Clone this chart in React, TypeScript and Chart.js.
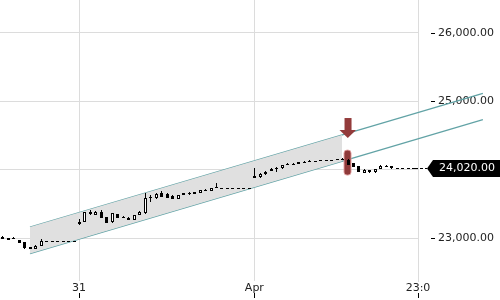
import React, { useEffect, useRef } from "react";
import { Chart, registerables } from "chart.js";

Chart.register(...registerables);

// ---- data ----
const categories = ["31", "Apr", "23:0"];
const tickIndex = [14, 46, 75.86];
const yTicks = [23000, 24000, 25000, 26000];

const opens = [
  23023, 22998, 22998, 22975, 22941, 22877, 22843, 22892, 22956, 22956, 22956, 22956, 22956, 22956,
  23204, 23242, 23388, 23340, 23388, 23310, 23233, 23354, 23312, 23300, 23267, 23340, 23365, 23600,
  23583, 23656, 23642, 23617, 23573, 23656, 23665, 23675, 23665, 23706, 23694, 23750, 23740, 23740,
  23740, 23740, 23740, 23740, 23913, 23894, 23934, 23982, 24020, 24021, 24082, 24085, 24080, 24120,
  24126, 24132, 24137, 24142, 24147, 24153, 24158, 24140, 24094, 24055, 23957, 23996, 23963, 24007,
  24053, 24050, 24020, 24020, 24020, 24020,
];
const highs = [
  23030, 23005, 23020, 22980, 22945, 22880, 22895, 22985, 22956, 22956, 22956, 22956, 22956, 22956,
  23281, 23390, 23420, 23395, 23420, 23315, 23370, 23360, 23330, 23305, 23345, 23400, 23667, 23632,
  23660, 23690, 23660, 23625, 23635, 23660, 23670, 23680, 23705, 23720, 23735, 23800, 23740, 23740,
  23740, 23740, 23740, 23740, 24026, 23960, 23980, 24020, 24045, 24075, 24095, 24100, 24118, 24135,
  24140, 24132, 24137, 24142, 24147, 24153, 24175, 24150, 24100, 24060, 24010, 24000, 24010, 24075,
  24070, 24055, 24020, 24020, 24020, 24020,
];
const lows = [
  22990, 22970, 22990, 22930, 22850, 22840, 22840, 22890, 22956, 22956, 22956, 22956, 22956, 22956,
  23200, 23240, 23345, 23335, 23295, 23220, 23230, 23295, 23290, 23262, 23262, 23335, 23360, 23534,
  23580, 23600, 23588, 23570, 23570, 23628, 23638, 23646, 23660, 23700, 23690, 23735, 23740, 23740,
  23740, 23740, 23740, 23740, 23880, 23885, 23930, 23978, 23972, 24015, 24075, 24078, 24078, 24112,
  24120, 24132, 24137, 24142, 24147, 24153, 24152, 24065, 24040, 23968, 23950, 23960, 23960, 24005,
  24040, 24015, 24020, 24020, 24020, 24020,
];
const closes = [
  22994, 22975, 22995, 22936, 22854, 22843, 22892, 22956, 22956, 22956, 22956, 22956, 22956, 22956,
  23242, 23379, 23350, 23388, 23300, 23227, 23365, 23300, 23308, 23267, 23340, 23383, 23592, 23605,
  23646, 23607, 23592, 23573, 23632, 23632, 23642, 23650, 23700, 23710, 23729, 23740, 23740, 23740,
  23740, 23740, 23740, 23740, 23884, 23942, 23971, 24015, 24022, 24069, 24078, 24080, 24113, 24115,
  24122, 24132, 24137, 24142, 24147, 24153, 24155, 24069, 24045, 23972, 23996, 23963, 24007, 24059,
  24057, 24020, 24020, 24020, 24020, 24020,
];

const lastPrice = 24020;

// channel anchors: start, end of shaded part, end of lines
const channelX = [5.05, 62, 87.7];
const channelLower = [22778, 24124, 24731];
const channelUpper = [23163, 24509, 25116];

// sell signal
const signalIndex = 63;
const signalArrowPrice = 24463;
const signalBand = [23922, 24287];

const FONT = "DejaVu Sans";

const fmt = (v: number) =>
  Number(v).toLocaleString("en-US", { minimumFractionDigits: 2, maximumFractionDigits: 2 });

const noPad = (s: any) => {
  s.paddingTop = 0;
  s.paddingBottom = 0;
  s.paddingLeft = 0;
  s.paddingRight = 0;
};

const overlayPlugin = {
  id: "overlay",
  afterDatasetsDraw(chart: any) {
    const { ctx, chartArea } = chart;
    const xs = chart.scales.x;
    const ys = chart.scales.y;
    ctx.save();
    ctx.beginPath();
    ctx.rect(chartArea.left, chartArea.top, chartArea.right - chartArea.left, chartArea.bottom - chartArea.top);
    ctx.clip();

    // signal band (behind candle)
    const sx = xs.getPixelForValue(signalIndex);
    const bTop = ys.getPixelForValue(signalBand[1]);
    const bBot = ys.getPixelForValue(signalBand[0]);
    ctx.beginPath();
    (ctx as any).roundRect(sx - 3.5, bTop, 7, bBot - bTop, 3);
    ctx.fillStyle = "#8f3a3a";
    ctx.fill();
    ctx.strokeStyle = "rgba(225,160,160,0.9)";
    ctx.lineWidth = 1;
    ctx.stroke();

    // candles
    for (let i = 0; i < opens.length; i++) {
      const px = Math.round(xs.getPixelForValue(i));
      const yo = ys.getPixelForValue(opens[i]);
      const yc = ys.getPixelForValue(closes[i]);
      const yh = Math.round(ys.getPixelForValue(highs[i]));
      const yl = Math.round(ys.getPixelForValue(lows[i]));
      const top = Math.round(Math.min(yo, yc));
      const bot = Math.round(Math.max(yo, yc));
      const h = Math.max(1, bot - top);
      ctx.fillStyle = "#000";
      if (yl - yh > 0) ctx.fillRect(px, yh, 1, yl - yh);
      ctx.fillRect(px - 1, top, 3, h);
      if (closes[i] > opens[i] && h > 2) {
        ctx.fillStyle = "#fff";
        ctx.fillRect(px, top + 1, 1, h - 2);
      }
    }
    ctx.restore();

    // arrow
    const tip = ys.getPixelForValue(signalArrowPrice);
    ctx.save();
    ctx.fillStyle = "#933b3b";
    ctx.fillRect(sx - 3, tip - 20, 7, 12);
    ctx.beginPath();
    ctx.moveTo(sx - 8, tip - 8);
    ctx.lineTo(sx + 8.5, tip - 8);
    ctx.lineTo(sx + 0.25, tip);
    ctx.closePath();
    ctx.fill();
    ctx.restore();
  },
  afterDraw(chart: any) {
    const { ctx, chartArea } = chart;
    const xs = chart.scales.x;
    const ys = chart.scales.y;
    ctx.save();
    ctx.fillStyle = "#000";
    // y tick dashes
    yTicks.forEach((v) => {
      const y = Math.round(ys.getPixelForValue(v));
      ctx.fillRect(chartArea.right + 13, y, 4, 1);
    });
    // x tick marks below labels
    tickIndex.forEach((v) => {
      const x = Math.round(xs.getPixelForValue(v));
      ctx.fillRect(x, 293, 1, 5);
    });
    // last price dashed extension
    const ly = Math.round(ys.getPixelForValue(lastPrice)) + 0.5;
    ctx.strokeStyle = "#000";
    ctx.lineWidth = 1;
    ctx.setLineDash([3, 2]);
    ctx.beginPath();
    ctx.moveTo(chartArea.right - 3, ly);
    ctx.lineTo(chartArea.right + 9, ly);
    ctx.stroke();
    ctx.setLineDash([]);
    // price label
    const cy = ly;
    ctx.beginPath();
    ctx.moveTo(chartArea.right + 9, cy);
    ctx.lineTo(chartArea.right + 15, cy - 8.5);
    ctx.lineTo(500, cy - 8.5);
    ctx.lineTo(500, cy + 8.5);
    ctx.lineTo(chartArea.right + 15, cy + 8.5);
    ctx.closePath();
    ctx.fillStyle = "#000";
    ctx.fill();
    ctx.fillStyle = "#fff";
    ctx.font = `11px '${FONT}'`;
    ctx.textBaseline = "middle";
    ctx.textAlign = "left";
    ctx.fillText(fmt(lastPrice), chartArea.right + 21, cy);
    ctx.restore();
  },
};

export default function App() {
  const ref = useRef<HTMLCanvasElement | null>(null);
  useEffect(() => {
    if (!ref.current) return;
    const chart = new Chart(ref.current, {
      type: "line",
      data: {
        datasets: [
          {
            data: [
              { x: channelX[0], y: channelLower[0] },
              { x: channelX[1], y: channelLower[1] },
            ],
            borderWidth: 0,
            pointRadius: 0,
            fill: false,
          },
          {
            data: [
              { x: channelX[0], y: channelUpper[0] },
              { x: channelX[1], y: channelUpper[1] },
            ],
            borderWidth: 0,
            pointRadius: 0,
            fill: "-1",
            backgroundColor: "#e0e0e0",
          },
          {
            data: [
              { x: channelX[0], y: channelLower[0] },
              { x: channelX[2], y: channelLower[2] },
            ],
            borderColor: "#62a3a6",
            borderWidth: 1.3,
            pointRadius: 0,
            fill: false,
            clip: false,
          },
          {
            data: [
              { x: channelX[0], y: channelUpper[0] },
              { x: channelX[2], y: channelUpper[2] },
            ],
            borderColor: "#62a3a6",
            borderWidth: 1.3,
            pointRadius: 0,
            fill: false,
            clip: false,
          },
        ] as any,
      },
      options: {
        animation: false,
        responsive: false,
        maintainAspectRatio: false,
        layout: { padding: 0 },
        events: [],
        plugins: { legend: { display: false }, tooltip: { enabled: false } },
        scales: {
          x: {
            type: "linear",
            min: -0.42,
            max: 75.86,
            afterBuildTicks: (s: any) => {
              s.ticks = tickIndex.map((v) => ({ value: v }));
            },
            afterFit: (s: any) => {
              s.height = 19;
              noPad(s);
            },
            ticks: {
              autoSkip: false,
              maxRotation: 0,
              padding: 1,
              color: "#222",
              font: { family: FONT, size: 11 },
              callback: (_v: any, i: number) => categories[i],
            },
            grid: { color: "#dcdcdc", drawTicks: false },
            border: { display: false },
          },
          y: {
            position: "right",
            min: 22377,
            max: 26477,
            afterBuildTicks: (s: any) => {
              s.ticks = yTicks.map((v) => ({ value: v }));
            },
            afterFit: (s: any) => {
              s.width = 82;
              noPad(s);
            },
            ticks: {
              padding: 20,
              color: "#222",
              font: { family: FONT, size: 11 },
              callback: (v: any) => fmt(v),
            },
            grid: { color: "#dcdcdc", drawTicks: false },
            border: { display: true, color: "#dcdcdc" },
          },
        },
      } as any,
      plugins: [overlayPlugin],
    });
    return () => chart.destroy();
  }, []);
  return (
    <div style={{ position: "fixed", left: 0, top: 0, width: 500, height: 300, background: "#fff" }}>
      <canvas ref={ref} width={500} height={300} style={{ width: 500, height: 300 }} />
    </div>
  );
}
